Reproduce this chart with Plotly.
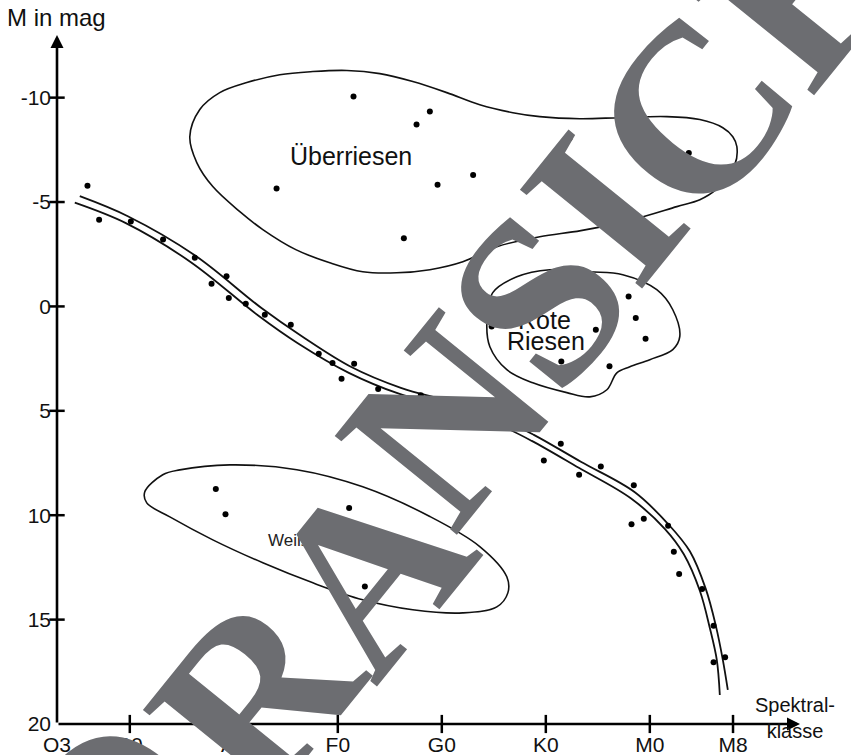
import plotly.graph_objects as go

# ---------------- data ----------------
# spectral class axis: O=0, B=1, A=2, F=3, G=4, K=5, M=6 (subclass = tenths)
class_ticks = [0.3, 1, 2, 3, 4, 5, 6, 6.8]
class_labels = ["O3", "B0", "A0", "F0", "G0", "K0", "M0", "M8"]
mag_ticks = [-10, -5, 0, 5, 10, 15, 20]
mag_labels = ["-10", "-5", "0", "5", "10", "15", "20"]

# main sequence band (two parallel lines)
ms_upper_x = [0.519, 0.981, 1.625, 2.269, 2.654, 3.125, 3.606, 4.087, 4.567, 4.885,
              5.337, 5.856, 6.183, 6.385, 6.538, 6.635, 6.702, 6.750]
ms_upper_m = [-5.28, -4.32, -2.45, 0.09, 1.43, 2.89, 3.90, 4.57, 5.38, 6.15,
              7.44, 8.90, 10.46, 11.73, 13.53, 15.30, 16.93, 18.37]
ms_lower_x = [0.471, 0.962, 1.587, 2.231, 2.615, 3.106, 3.587, 4.067, 4.548, 4.865,
              5.317, 5.817, 6.144, 6.327, 6.481, 6.577, 6.644, 6.673]
ms_lower_m = [-4.97, -3.99, -2.12, 0.42, 1.76, 3.18, 4.18, 4.85, 5.67, 6.44,
              7.73, 9.19, 10.65, 11.87, 13.62, 15.40, 16.93, 18.61]

# stars on the main sequence
ms_x = [0.593, 0.705, 1.010, 1.320, 1.625, 1.786, 1.930, 1.952, 2.115, 2.298, 2.548,
        2.817, 2.949, 3.157, 3.036, 3.388, 3.798, 3.981, 4.356, 5.144, 4.981, 5.320,
        5.529, 5.846, 5.824, 5.942, 6.176, 6.231, 6.282, 6.503, 6.613, 6.613, 6.724]
ms_m = [-5.78, -4.15, -4.07, -3.20, -2.33, -1.09, -1.44, -0.40, -0.13, 0.40, 0.88,
        2.27, 2.71, 2.75, 3.46, 3.96, 4.26, 4.71, 4.98, 6.58, 7.38, 8.06,
        7.67, 8.56, 10.43, 10.17, 10.51, 11.75, 12.82, 13.54, 15.30, 17.04, 16.80]

# supergiants
sg_x = [3.151, 3.885, 3.757, 2.411, 3.959, 4.301, 3.635, 5.228, 6.375]
sg_m = [-10.06, -9.34, -8.71, -5.65, -5.83, -6.30, -3.26, -8.04, -7.35]

# red giants
rg_x = [5.796, 5.865, 5.959, 5.612, 5.481, 4.479, 5.149]
rg_m = [-0.48, 0.56, 1.55, 2.87, 1.12, 0.96, 2.64]

# white dwarfs
wd_x = [1.827, 1.920, 3.109, 3.577, 3.260, 4.163]
wd_m = [8.75, 9.95, 9.66, 12.27, 13.42, 12.86]

# region outlines
sg_out_x = [1.577, 1.673, 1.865, 2.125, 2.442, 2.760, 3.087, 3.404, 3.721, 4.048,
            4.365, 4.683, 4.942, 5.327, 5.712, 6.163, 6.481, 6.702, 6.798, 6.837,
            6.817, 6.635, 6.481, 6.260, 5.798, 5.337, 4.942, 4.529, 4.202, 3.885,
            3.567, 3.240, 2.923, 2.596, 2.279, 2.058, 1.798, 1.644]
sg_out_m = [-8.13, -9.43, -10.24, -10.72, -11.10, -11.25, -11.30, -11.15, -10.77, -10.24,
            -9.66, -9.28, -9.09, -8.99, -9.04, -9.09, -8.95, -8.56, -8.13, -7.65,
            -6.79, -5.59, -5.11, -4.78, -4.11, -3.63, -3.34, -2.86, -2.14, -1.76,
            -1.61, -1.66, -2.09, -2.72, -3.68, -4.54, -5.74, -6.89]

rg_out_x = [4.433, 4.490, 4.721, 5.038, 5.423, 5.740, 6.067, 6.221, 6.288, 6.221,
            6.000, 5.808, 5.683, 5.587, 5.423, 5.202, 4.875, 4.625, 4.462]
rg_out_m = [0.78, -0.66, -1.42, -1.76, -1.66, -1.52, -0.80, 0.16, 1.45, 2.07,
            2.55, 2.89, 3.18, 3.99, 4.33, 4.13, 3.66, 3.03, 1.93]

wd_out_x = [1.144, 1.317, 1.481, 1.962, 2.606, 3.240, 3.885, 4.365, 4.625, 4.635,
            4.529, 4.202, 3.721, 3.240, 2.760, 2.279, 1.798, 1.385, 1.163]
wd_out_m = [8.88, 8.06, 7.83, 7.59, 7.82, 8.64, 10.06, 11.50, 12.95, 13.72,
            14.39, 14.68, 14.53, 14.05, 13.24, 12.28, 11.18, 10.08, 9.41]

# preview watermark letters and their centres (paper fractions)
wm_letters = ["O", "R", "A", "N", "S", "I", "C", "H"]
wm_x = [0.071, 0.266, 0.417, 0.523, 0.647, 0.735, 0.855, 1.010]
wm_y = [-0.139, 0.045, 0.224, 0.441, 0.617, 0.749, 0.887, 1.087]

FONT = "Liberation Sans, Arial, sans-serif"
INK = "#111111"

fig = go.Figure()


def closed(xs, ys):
    return xs + [xs[0]], ys + [ys[0]]


for xs, ys in [(sg_out_x, sg_out_m), (rg_out_x, rg_out_m), (wd_out_x, wd_out_m)]:
    cx, cy = closed(xs, ys)
    fig.add_trace(go.Scatter(x=cx, y=cy, mode="lines",
                             line=dict(color=INK, width=1.6, shape="spline", smoothing=1.0),
                             hoverinfo="skip", showlegend=False))

for xs, ys in [(ms_upper_x, ms_upper_m), (ms_lower_x, ms_lower_m)]:
    fig.add_trace(go.Scatter(x=xs, y=ys, mode="lines",
                             line=dict(color=INK, width=1.8, shape="spline", smoothing=1.0),
                             hoverinfo="skip", showlegend=False))

for xs, ys in [(ms_x, ms_m), (sg_x, sg_m), (rg_x, rg_m), (wd_x, wd_m)]:
    fig.add_trace(go.Scatter(x=xs, y=ys, mode="markers",
                             marker=dict(color="black", size=6),
                             hoverinfo="skip", showlegend=False))

# crossing tick marks
fig.add_trace(go.Scatter(x=class_ticks[1:], y=[mag_ticks[-1]] * (len(class_ticks) - 1),
                         mode="markers", cliponaxis=False,
                         marker=dict(symbol="line-ns", size=13, line=dict(color="black", width=2.5)),
                         hoverinfo="skip", showlegend=False))
fig.add_trace(go.Scatter(x=[class_ticks[0]] * (len(mag_ticks) - 1), y=mag_ticks[:-1],
                         mode="markers", cliponaxis=False,
                         marker=dict(symbol="line-ew", size=11, line=dict(color="black", width=2.5)),
                         hoverinfo="skip", showlegend=False))

annotations = [
    # axes with arrowheads
    dict(xref="paper", yref="paper", x=0, y=1, ax=0, ay=689, text="", showarrow=True,
         arrowhead=2, arrowsize=1, arrowwidth=2.6, arrowcolor="black", standoff=0),
    dict(xref="paper", yref="paper", x=1, y=0, ax=-743, ay=0, text="", showarrow=True,
         arrowhead=2, arrowsize=1, arrowwidth=2.6, arrowcolor="black", standoff=0),
    # axis titles
    dict(xref="paper", yref="paper", x=-0.07, y=1.0247, xanchor="left", yanchor="middle",
         text="M in mag", showarrow=False, font=dict(family=FONT, size=24, color=INK)),
    dict(xref="paper", yref="paper", x=0.993, y=0.008, xanchor="center", yanchor="middle",
         text="Spektral-<br>klasse", showarrow=False, align="center",
         font=dict(family=FONT, size=20, color=INK)),
    # region labels
    dict(x=3.125, y=-7.22, text="Überriesen", showarrow=False,
         font=dict(family=FONT, size=25, color=INK)),
    dict(x=4.99, y=0.64, text="Rote", showarrow=False,
         font=dict(family=FONT, size=25, color=INK)),
    dict(x=5.0, y=1.64, text="Riesen", showarrow=False,
         font=dict(family=FONT, size=25, color=INK)),
    dict(x=2.308, y=11.2, xanchor="left", text="Weiße Zwerge", showarrow=False,
         font=dict(family=FONT, size=17, color="#222222")),
]

# watermark on top of everything
for ch, wx, wy in zip(wm_letters, wm_x, wm_y):
    annotations.append(dict(xref="paper", yref="paper", x=wx, y=wy,
                            xanchor="center", yanchor="middle",
                            text="<b>" + ch + "</b>", showarrow=False, textangle=-51,
                            font=dict(family="Liberation Serif, Times New Roman, serif",
                                      size=240, color="#6c6d71")))

fig.update_layout(
    width=851, height=755,
    margin=dict(l=57, r=51, t=35, b=31, autoexpand=False),
    paper_bgcolor="white", plot_bgcolor="white",
    showlegend=False,
    annotations=annotations,
    xaxis=dict(range=[0.3, 7.444], showgrid=False, zeroline=False, showline=False,
               automargin=False,
               tickmode="array", tickvals=class_ticks, ticktext=class_labels, ticks="",
               ticklabelstandoff=6,
               tickfont=dict(family=FONT, size=21, color=INK), fixedrange=True),
    yaxis=dict(range=[20, -13.0], showgrid=False, zeroline=False, showline=False,
               automargin=False,
               tickmode="array", tickvals=mag_ticks, ticktext=mag_labels, ticks="",
               ticklabelstandoff=5,
               tickfont=dict(family=FONT, size=21, color=INK), fixedrange=True),
)

fig.write_html("out.html", config={"displayModeBar": False},
               post_script="document.body.style.margin='0';document.body.style.padding='0';")
